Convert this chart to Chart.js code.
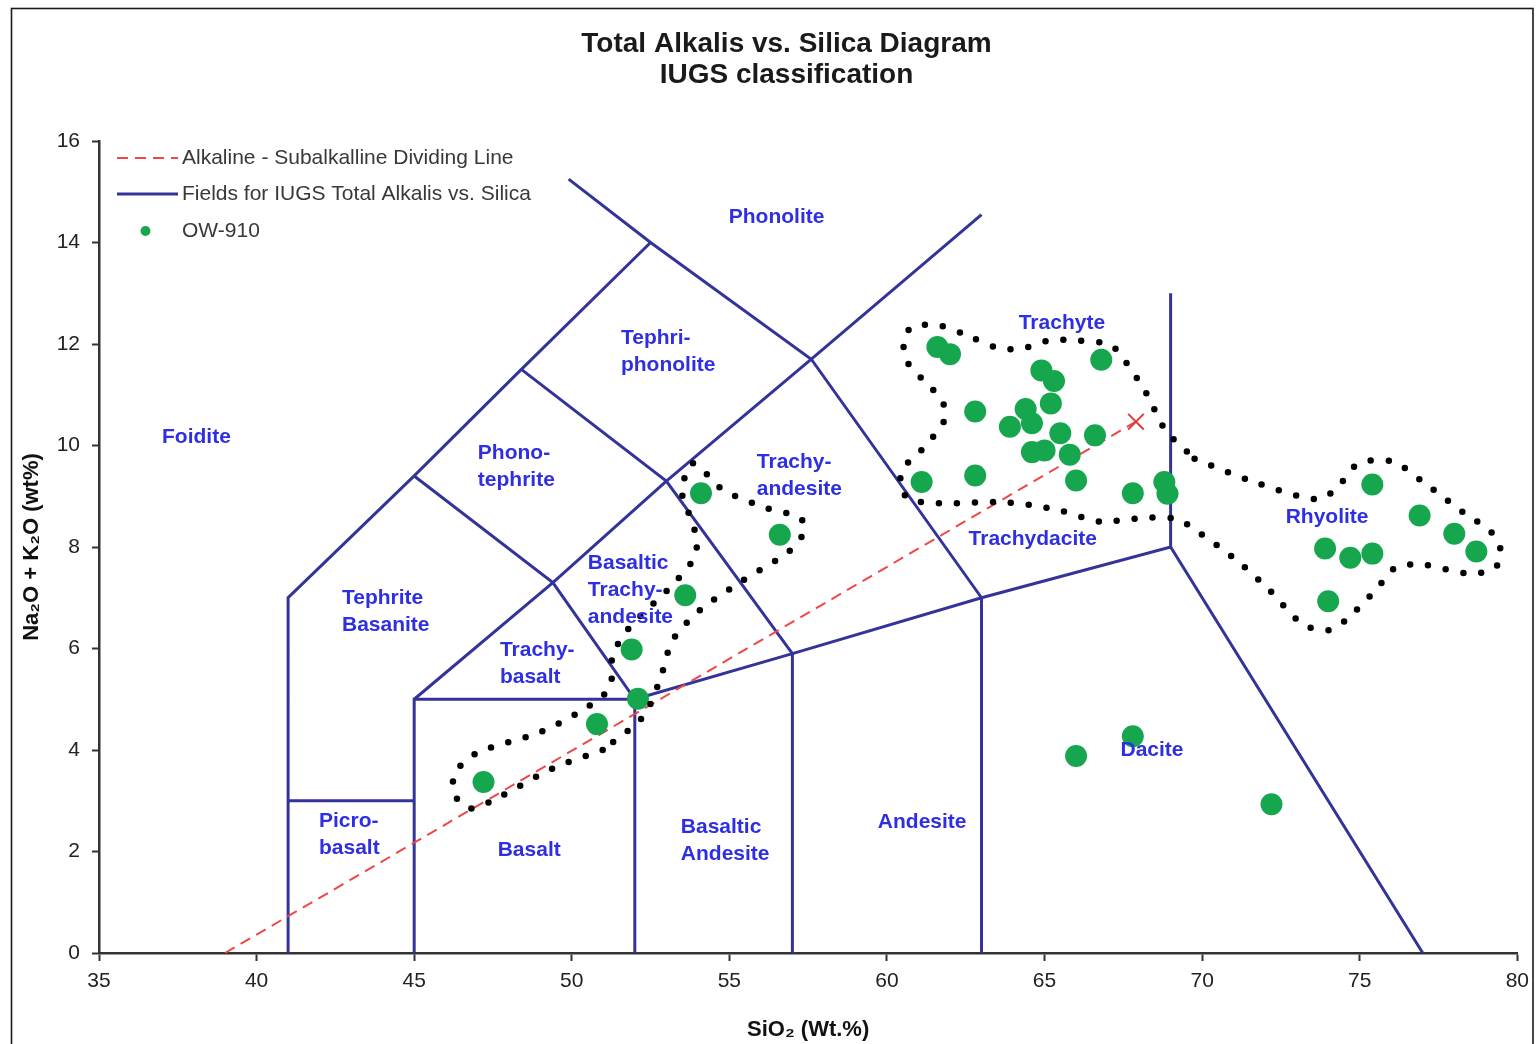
<!DOCTYPE html>
<html>
<head>
<meta charset="utf-8">
<title>Total Alkalis vs. Silica Diagram</title>
<script src="https://cdn.jsdelivr.net/npm/chart.js@4.4.1/dist/chart.umd.min.js"></script>
<style>
  html, body { margin: 0; padding: 0; background: #fff; }
  #wrap { position: relative; width: 1537px; height: 1044px; }
</style>
</head>
<body>
<div id="wrap"><canvas id="tas"></canvas></div>
<script>
// ---- Chart text ----
const TITLE_LINES = ['Total Alkalis vs. Silica Diagram', 'IUGS classification'];
const X_TITLE = 'SiO\u2082 (Wt.%)';
const Y_TITLE = 'Na\u2082O + K\u2082O (wt%)';

// ---- Axis ticks ----
const xTickValues = [35, 40, 45, 50, 55, 60, 65, 70, 75, 80];
const yTickValues = [0, 2, 4, 6, 8, 10, 12, 14, 16];

// ---- Sample OW-910 (SiO2 wt%, Na2O+K2O wt%) ----
const sampleSiO2 = [
  47.2, 50.8, 52.1, 51.9, 53.6, 54.1, 56.6,
  61.6, 62.0, 66.8, 64.9, 65.3, 65.2, 62.8, 64.4, 64.6, 63.9, 65.5,
  66.6, 64.6, 65.0, 65.8, 66.0, 62.8, 61.1, 67.8, 68.8, 68.9,
  75.4, 76.9, 78.0, 78.7, 73.9, 74.7, 75.4, 74.0,
  67.8, 66.0, 72.2
];
const sampleAlkali = [
  3.37, 4.51, 5.01, 5.98, 7.05, 9.06, 8.24,
  11.94, 11.80, 11.69, 11.48, 11.27, 10.83, 10.67, 10.72, 10.44, 10.37, 10.24,
  10.20, 9.87, 9.90, 9.82, 9.31, 9.41, 9.28, 9.06, 9.28, 9.05,
  9.23, 8.62, 8.26, 7.91, 7.97, 7.79, 7.87, 6.93,
  4.27, 3.88, 2.93
];

// ---- Alkaline / subalkaline dividing line ----
const dividerSiO2 = [39, 67.9];
const dividerAlkali = [0, 10.47];

// ---- IUGS field boundaries (polylines of [SiO2, alkali]) ----
const fieldBoundaries = [
  [[41, 0], [41, 7], [45, 9.4], [48.4, 11.5], [52.5, 14]],
  [[49.9, 15.25], [52.5, 14], [57.6, 11.7], [63, 7]],
  [[57.6, 11.7], [63, 14.55]],
  [[41, 3], [45, 3]],
  [[45, 0], [45, 5], [52, 5]],
  [[45, 5], [49.4, 7.3], [53, 9.3], [57.6, 11.7]],
  [[45, 9.4], [49.4, 7.3], [52, 5], [57, 5.9], [63, 7], [69, 8], [77, 0]],
  [[48.4, 11.5], [53, 9.3], [57, 5.9]],
  [[52, 0], [52, 5]],
  [[57, 0], [57, 5.9]],
  [[63, 0], [63, 7]],
  [[69, 8], [69, 13]]
];

// ---- Dotted group outlines ([SiO2, alkali]) ----
const outlineMafic = [
  [50.98, 4.00], [49.40, 3.64], [47.62, 3.05], [46.77, 2.85], [46.29, 3.11],
  [46.29, 3.54], [46.99, 3.94], [48.99, 4.35], [50.48, 4.84], [51.21, 5.24],
  [51.30, 5.87], [51.84, 6.42], [53.11, 7.20], [53.84, 7.74], [53.97, 8.13],
  [53.65, 8.78], [53.49, 9.11], [53.84, 9.65], [54.79, 9.13], [56.22, 8.76],
  [57.23, 8.58], [57.39, 8.33], [56.92, 7.93], [55.33, 7.30], [54.06, 6.75],
  [53.20, 6.16], [52.79, 5.37], [52.25, 4.65], [50.98, 4.00]
];
const outlineFelsic = [
  [69.76, 9.74], [71.51, 9.31], [73.60, 8.94], [74.23, 9.13], [74.93, 9.63],
  [76.01, 9.69], [76.99, 9.29], [78.29, 8.68], [79.18, 8.29], [79.47, 7.93],
  [79.28, 7.58], [78.42, 7.48], [76.93, 7.66], [76.10, 7.58], [75.56, 7.19],
  [74.61, 6.59], [74.04, 6.36], [73.19, 6.48], [72.14, 7.15], [71.09, 7.74],
  [69.89, 8.29], [69.13, 8.56], [67.89, 8.56], [66.78, 8.50], [65.48, 8.72],
  [63.80, 8.88], [61.64, 8.86], [60.72, 8.94], [60.44, 9.17], [60.50, 9.53],
  [61.17, 9.96], [61.83, 10.51], [61.74, 10.89], [61.10, 11.32], [60.56, 11.73],
  [60.56, 12.07], [60.79, 12.34], [61.70, 12.36], [62.53, 12.17], [63.58, 11.91],
  [64.40, 11.93], [65.16, 12.07], [66.02, 12.07], [67.06, 11.99], [67.48, 11.73],
  [68.24, 11.02], [68.84, 10.30], [69.76, 9.74]
];

// ---- Field names, anchored at the left end of their first line ----
const fieldNames = [
  { lines: ['Foidite'], at: [37.0, 10.16] },
  { lines: ['Phonolite'], at: [54.98, 14.49] },
  { lines: ['Tephri-', 'phonolite'], at: [51.56, 12.11] },
  { lines: ['Phono-', 'tephrite'], at: [47.02, 9.84] },
  { lines: ['Trachy-', 'andesite'], at: [55.87, 9.67] },
  { lines: ['Basaltic', 'Trachy-', 'andesite'], at: [50.51, 7.68] },
  { lines: ['Tephrite', 'Basanite'], at: [42.71, 6.99] },
  { lines: ['Trachy-', 'basalt'], at: [47.72, 5.96] },
  { lines: ['Picro-', 'basalt'], at: [41.98, 2.60] },
  { lines: ['Basalt'], at: [47.65, 2.03] },
  { lines: ['Basaltic', 'Andesite'], at: [53.46, 2.48] },
  { lines: ['Andesite'], at: [59.71, 2.58] },
  { lines: ['Trachyte'], at: [64.18, 12.40] },
  { lines: ['Trachydacite'], at: [62.59, 8.15] },
  { lines: ['Rhyolite'], at: [72.65, 8.58] },
  { lines: ['Dacite'], at: [67.41, 4.00] }
];

// ---- Styling ----
const FONT = "'Liberation Sans', Arial, Helvetica, sans-serif";
const FIELD_BLUE = '#33339a';
const LABEL_BLUE = '#2e2ee2';
const POINT_GREEN = '#16a64e';
const DIVIDER_RED = '#ef4747';
const AXIS_GREY = '#333333';

Chart.defaults.font.family = FONT;

const toXY = pts => pts.map(([x, y]) => ({ x, y }));
const fieldData = fieldBoundaries.flatMap(seg => [...toXY(seg), { x: null, y: null }]);

// White page and the outer frame
const framePlugin = {
  id: 'frame',
  beforeDraw(chart) {
    const { ctx } = chart;
    ctx.save();
    ctx.fillStyle = '#ffffff';
    ctx.fillRect(0, 0, chart.width, chart.height);
    ctx.strokeStyle = '#1a1a1a';
    ctx.lineWidth = 1.6;
    ctx.strokeRect(11.5, 8.5, chart.width - 15.5, chart.height + 20);
    ctx.restore();
  }
};

// Two-line heading above the plot
const headingPlugin = {
  id: 'heading',
  afterDraw(chart) {
    const { ctx } = chart;
    const cx = (chart.width + 36) / 2;
    ctx.save();
    ctx.font = 'bold 28px ' + FONT;
    ctx.fillStyle = '#1a1a1a';
    ctx.textAlign = 'center';
    ctx.textBaseline = 'alphabetic';
    TITLE_LINES.forEach((t, i) => ctx.fillText(t, cx, 52 + i * 31));
    ctx.restore();
  }
};

// Rock-field names placed in data coordinates
const fieldNamePlugin = {
  id: 'fieldNames',
  afterDatasetsDraw(chart) {
    const { ctx, scales } = chart;
    ctx.save();
    ctx.font = 'bold 21px ' + FONT;
    ctx.fillStyle = LABEL_BLUE;
    ctx.textAlign = 'left';
    ctx.textBaseline = 'middle';
    fieldNames.forEach(f => {
      const px = scales.x.getPixelForValue(f.at[0]);
      const py = scales.y.getPixelForValue(f.at[1]);
      f.lines.forEach((t, i) => ctx.fillText(t, px, py + i * 27));
    });
    ctx.restore();
  }
};

// Legend drawn inside the top-left corner of the plot
const insideLegendPlugin = {
  id: 'insideLegend',
  afterDraw(chart) {
    const { ctx, chartArea } = chart;
    const ds = chart.data.datasets;
    const x0 = chartArea.left + 18, x1 = chartArea.left + 79, tx = chartArea.left + 83;
    const rows = [chartArea.top + 17, chartArea.top + 53, chartArea.top + 90];
    ctx.save();
    // dashed red sample
    ctx.strokeStyle = ds[1].borderColor;
    ctx.lineWidth = 2;
    ctx.setLineDash([11, 7]);
    ctx.beginPath(); ctx.moveTo(x0, rows[0]); ctx.lineTo(x1, rows[0]); ctx.stroke();
    // solid blue sample
    ctx.setLineDash([]);
    ctx.strokeStyle = ds[3].borderColor;
    ctx.lineWidth = 3;
    ctx.beginPath(); ctx.moveTo(x0, rows[1]); ctx.lineTo(x1, rows[1]); ctx.stroke();
    // green marker sample
    ctx.fillStyle = ds[2].backgroundColor;
    ctx.beginPath(); ctx.arc((x0 + x1) / 2 - 2, rows[2], 5, 0, Math.PI * 2); ctx.fill();
    // texts
    ctx.font = '21px ' + FONT;
    ctx.fillStyle = '#383838';
    ctx.textAlign = 'left';
    ctx.textBaseline = 'middle';
    ctx.fillText(ds[1].label, tx, rows[0]);
    ctx.fillText(ds[3].label, tx, rows[1]);
    ctx.fillText(ds[2].label, tx, rows[2]);
    ctx.restore();
  }
};

const outlineStyle = {
  showLine: true,
  borderColor: '#000000',
  borderWidth: 6.5,
  borderDash: [0, 18],
  borderCapStyle: 'round',
  tension: 0.3,
  pointRadius: 0,
  pointHoverRadius: 0,
  fill: false
};

new Chart(document.getElementById('tas'), {
  type: 'scatter',
  data: {
    datasets: [
      Object.assign({ label: 'Mafic group', data: toXY(outlineMafic), order: 0 }, outlineStyle),
      {
        label: 'Alkaline - Subalkalline Dividing Line',
        data: dividerSiO2.map((x, i) => ({ x, y: dividerAlkali[i] })),
        showLine: true,
        borderColor: DIVIDER_RED,
        borderWidth: 2,
        borderDash: [11, 7],
        pointStyle: 'crossRot',
        pointRadius: [0, 11],
        pointBorderColor: '#e03a3a',
        pointBorderWidth: 2,
        order: 2
      },
      {
        label: 'OW-910',
        data: sampleSiO2.map((x, i) => ({ x, y: sampleAlkali[i] })),
        backgroundColor: POINT_GREEN,
        borderColor: POINT_GREEN,
        borderWidth: 0,
        pointRadius: 11,
        pointHoverRadius: 11,
        order: 1
      },
      {
        label: 'Fields for IUGS Total Alkalis vs. Silica',
        data: fieldData,
        showLine: true,
        spanGaps: false,
        borderColor: FIELD_BLUE,
        borderWidth: 3,
        borderJoinStyle: 'miter',
        pointRadius: 0,
        pointHoverRadius: 0,
        order: 3
      },
      Object.assign({ label: 'Felsic group', data: toXY(outlineFelsic), order: 0 }, outlineStyle)
    ]
  },
  options: {
    responsive: true,
    maintainAspectRatio: false,
    animation: false,
    events: [],
    layout: { padding: { top: 141, right: 19, bottom: 0, left: 0 } },
    plugins: {
      legend: { display: false },
      tooltip: { enabled: false },
      title: { display: false }
    },
    scales: {
      x: {
        type: 'linear',
        min: 35,
        max: 80,
        afterBuildTicks: s => { s.ticks = xTickValues.map(v => ({ value: v })); },
        afterFit: s => { s.height = 91; },
        ticks: { font: { size: 21 }, color: '#222', padding: 8, maxRotation: 0, autoSkip: false },
        grid: { drawOnChartArea: false, drawTicks: true, tickLength: 8, tickColor: AXIS_GREY, tickWidth: 2 },
        border: { display: true, color: AXIS_GREY, width: 2.5 },
        title: {
          display: true, text: X_TITLE, color: '#111',
          font: { size: 22, weight: 'bold' }, padding: { top: 0, bottom: 1 }
        }
      },
      y: {
        type: 'linear',
        min: 0,
        max: 16,
        afterBuildTicks: s => { s.ticks = yTickValues.map(v => ({ value: v })); },
        afterFit: s => { s.width = 99; },
        ticks: { font: { size: 21 }, color: '#222', padding: 12, autoSkip: false },
        grid: { drawOnChartArea: false, drawTicks: true, tickLength: 7, tickColor: AXIS_GREY, tickWidth: 2 },
        border: { display: true, color: AXIS_GREY, width: 2.5 },
        title: {
          display: true, text: Y_TITLE, color: '#111',
          font: { size: 22, weight: 'bold' }, padding: { top: 19, bottom: 0 }
        }
      }
    }
  },
  plugins: [framePlugin, fieldNamePlugin, insideLegendPlugin, headingPlugin]
});
</script>
</body>
</html>
